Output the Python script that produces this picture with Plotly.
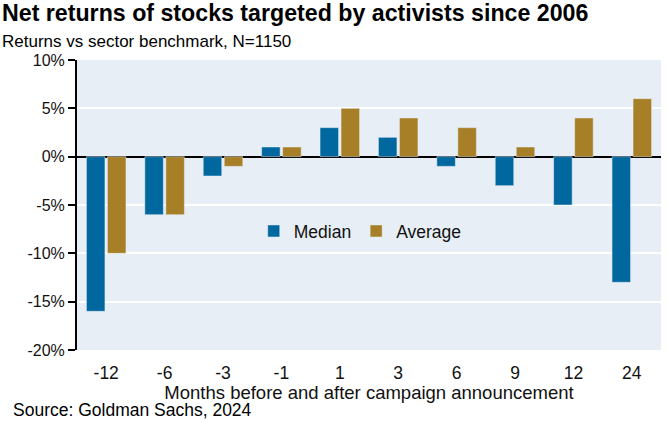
import plotly.graph_objects as go

months = ["-12", "-6", "-3", "-1", "1", "3", "6", "9", "12", "24"]
median = [-16, -6, -2, 1, 3, 2, -1, -3, -5, -13]
average = [-10, -6, -1, 1, 5, 4, 3, 1, 4, 6]
y_ticks = [10, 5, 0, -5, -10, -15, -20]

BLUE = "#00679f"
GOLD = "#a67f27"
FONT = "Liberation Sans, Arial, sans-serif"

fig = go.Figure()
fig.add_trace(go.Bar(x=months, y=median, name="Median", marker_color=BLUE))
fig.add_trace(go.Bar(x=months, y=average, name="Average", marker_color=GOLD))

fig.update_layout(
    width=671, height=423,
    margin=dict(l=77, r=10, t=60, b=73),
    paper_bgcolor="white",
    plot_bgcolor="#e7eef5",
    font=dict(family=FONT, size=16, color="#111111"),
    barmode="group",
    bargap=0.28,
    bargroupgap=0.12,
    showlegend=True,
    legend=dict(
        orientation="h", x=0.485, y=0.41, xanchor="center", yanchor="middle",
        bgcolor="rgba(0,0,0,0)", font=dict(size=17.5, family=FONT),
        itemwidth=30, traceorder="normal", tracegroupgap=0,
    ),
    xaxis=dict(
        type="category", showgrid=False, showline=False, ticks="",
        tickfont=dict(size=17.5), ticklabelstandoff=10,
        title=dict(text="Months before and after campaign announcement",
                   font=dict(size=18.5), standoff=2),
    ),
    yaxis=dict(
        range=[-20, 10], tickvals=y_ticks,
        ticktext=[f"{v}%" for v in y_ticks],
        showgrid=True, gridcolor="white", gridwidth=2,
        showline=True, linecolor="black", linewidth=2,
        ticks="outside", ticklen=7, tickwidth=2, tickcolor="black",
        tickfont=dict(size=16),
        zeroline=True, zerolinecolor="black", zerolinewidth=2,
    ),
    annotations=[
        dict(text="<b>Net returns of stocks targeted by activists since 2006</b>",
             xref="paper", yref="paper", x=-0.132, y=1.0, xanchor="left", yanchor="bottom",
             yshift=32, showarrow=False, font=dict(size=23.2, family=FONT, color="black")),
        dict(text="Returns vs sector benchmark, N=1150",
             xref="paper", yref="paper", x=-0.132, y=1.0, xanchor="left", yanchor="bottom",
             yshift=7, showarrow=False, font=dict(size=17, family=FONT, color="black")),
        dict(text="Source: Goldman Sachs, 2024",
             xref="paper", yref="paper", x=-0.113, y=0.0, xanchor="left", yanchor="bottom",
             yshift=-72, showarrow=False, font=dict(size=17.5, family=FONT, color="black")),
    ],
)

fig.write_html("out.html")
